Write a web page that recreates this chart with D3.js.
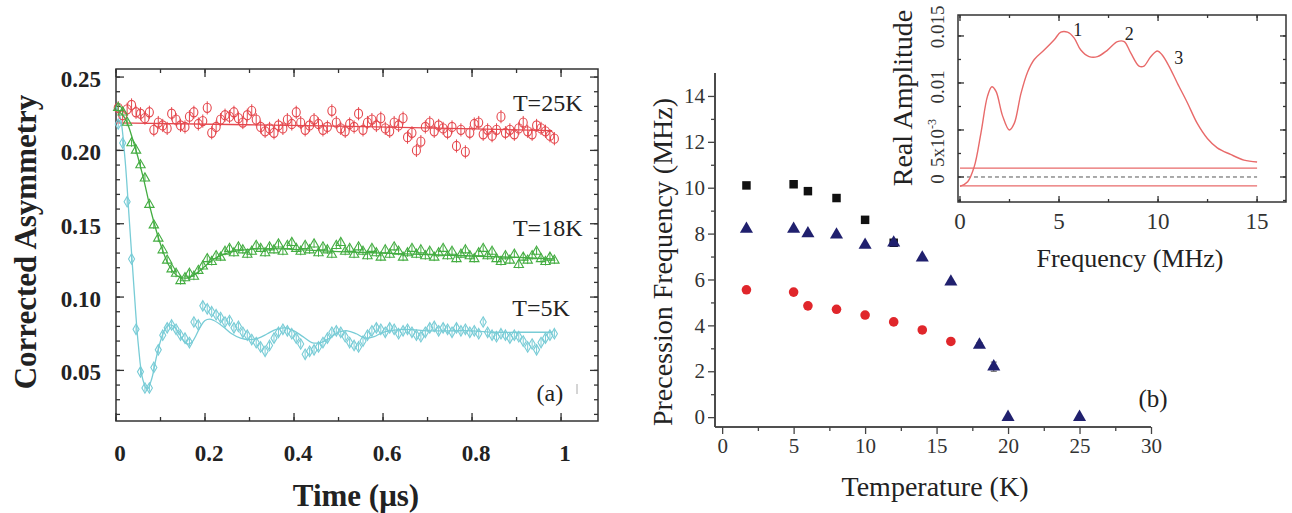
<!DOCTYPE html>
<html><head><meta charset="utf-8">
<script src="https://cdn.jsdelivr.net/npm/d3@7"></script>
<style>
html,body{margin:0;padding:0;background:#fff;}
svg{display:block;}
text{font-family:"Liberation Serif","Times New Roman",serif;}
</style></head>
<body>
<svg id="c" width="1292" height="513"></svg>
<script>
// ---------- Panel (a): muon asymmetry vs time ----------
const times = [0.005,0.015,0.025,0.035,0.045,0.055,0.065,0.075,0.085,0.095,
0.105,0.115,0.125,0.135,0.145,0.155,0.165,0.175,0.185,0.195,
0.205,0.215,0.225,0.235,0.245,0.255,0.265,0.275,0.285,0.295,
0.305,0.315,0.325,0.335,0.345,0.355,0.365,0.375,0.385,0.395,
0.405,0.415,0.425,0.435,0.445,0.455,0.465,0.475,0.485,0.495,
0.505,0.515,0.525,0.535,0.545,0.555,0.565,0.575,0.585,0.595,
0.605,0.615,0.625,0.635,0.645,0.655,0.665,0.675,0.685,0.695,
0.705,0.715,0.725,0.735,0.745,0.755,0.765,0.775,0.785,0.795,
0.805,0.815,0.825,0.835,0.845,0.855,0.865,0.875,0.885,0.895,
0.905,0.915,0.925,0.935,0.945,0.955,0.965,0.975,0.985];

const asym25K = [0.229,0.224,0.228,0.231,0.226,0.225,0.222,0.226,0.214,0.219,
0.217,0.215,0.225,0.221,0.217,0.216,0.223,0.226,0.218,0.220,
0.229,0.212,0.216,0.221,0.224,0.223,0.226,0.222,0.219,0.224,
0.227,0.221,0.216,0.213,0.215,0.212,0.217,0.215,0.221,0.218,
0.226,0.219,0.214,0.217,0.221,0.218,0.214,0.216,0.227,0.219,
0.215,0.213,0.218,0.216,0.225,0.214,0.219,0.221,0.217,0.222,
0.215,0.213,0.219,0.217,0.222,0.209,0.212,0.200,0.206,0.216,
0.219,0.213,0.217,0.215,0.212,0.216,0.203,0.214,0.199,0.212,
0.218,0.219,0.211,0.214,0.210,0.214,0.223,0.212,0.214,0.211,
0.215,0.219,0.213,0.211,0.217,0.215,0.213,0.210,0.208];

const asym18K = [0.229,0.226,0.219,0.205,0.200,0.190,0.181,0.163,0.149,0.140,
0.132,0.125,0.119,0.116,0.111,0.113,0.116,0.114,0.118,0.121,
0.126,0.124,0.128,0.127,0.131,0.133,0.130,0.134,0.132,0.129,
0.131,0.135,0.133,0.130,0.134,0.132,0.136,0.131,0.135,0.137,
0.133,0.131,0.135,0.132,0.136,0.130,0.134,0.132,0.129,0.135,
0.137,0.131,0.133,0.129,0.134,0.131,0.128,0.133,0.130,0.127,
0.132,0.129,0.134,0.131,0.127,0.130,0.133,0.129,0.132,0.128,
0.131,0.127,0.130,0.133,0.128,0.131,0.126,0.129,0.132,0.128,
0.126,0.130,0.133,0.128,0.131,0.126,0.124,0.128,0.125,0.129,
0.122,0.127,0.125,0.128,0.131,0.126,0.124,0.127,0.125];

const asym5K = [0.218,0.205,0.165,0.126,0.078,0.049,0.038,0.038,0.052,0.064,
0.074,0.079,0.081,0.078,0.074,0.072,0.069,0.083,0.081,0.094,
0.092,0.090,0.088,0.086,0.083,0.084,0.079,0.080,0.076,0.074,
0.071,0.069,0.066,0.063,0.067,0.072,0.076,0.078,0.077,0.075,
0.072,0.068,0.061,0.063,0.064,0.066,0.069,0.072,0.076,0.077,
0.076,0.073,0.069,0.067,0.066,0.070,0.074,0.077,0.079,0.078,
0.076,0.079,0.078,0.075,0.077,0.078,0.076,0.074,0.073,0.076,
0.079,0.080,0.077,0.079,0.078,0.076,0.079,0.077,0.078,0.076,
0.077,0.075,0.083,0.076,0.074,0.073,0.075,0.074,0.072,0.074,
0.073,0.070,0.066,0.068,0.064,0.069,0.072,0.074,0.075];

const err25K = 0.0045, err18K = 0.0025, err5K = 0.0025;

// fit curves (knots)
const fit25K_t = [0, 0.5, 0.98];
const fit25K_v = [0.2188, 0.2165, 0.2135];
const fit18K_t = [0,0.02,0.04,0.06,0.08,0.10,0.12,0.14,0.16,0.18,0.20,0.22,0.25,0.30,0.35,0.40,0.50,0.60,0.70,0.80,0.90,0.98];
const fit18K_v = [0.228,0.222,0.205,0.183,0.157,0.136,0.121,0.114,0.113,0.116,0.121,0.126,0.130,0.1325,0.133,0.1325,0.131,0.130,0.129,0.128,0.127,0.126];
const fit5K_t = [0,0.01,0.02,0.03,0.04,0.05,0.06,0.07,0.08,0.09,0.10,0.11,0.12,0.13,0.14,0.15,0.16,0.17,0.18,0.19,0.20,0.21,0.22,0.24,0.26,0.28,0.30,0.32,0.34,0.36,0.38,0.40,0.42,0.44,0.46,0.48,0.50,0.52,0.54,0.56,0.58,0.60,0.65,0.70,0.75,0.80,0.85,0.90,0.95,0.98];
const fit5K_v = [0.230,0.222,0.195,0.152,0.108,0.068,0.044,0.037,0.044,0.058,0.070,0.078,0.081,0.080,0.076,0.071,0.068,0.069,0.074,0.080,0.084,0.085,0.084,0.080,0.075,0.072,0.071,0.072,0.075,0.078,0.079,0.077,0.073,0.069,0.069,0.072,0.076,0.077,0.075,0.072,0.073,0.076,0.078,0.077,0.077,0.077,0.076,0.076,0.076,0.076];

const seriesLabelsA = ["T=25K","T=18K","T=5K"];
const xTicksA = [0,0.2,0.4,0.6,0.8,1];
const yTicksA = [0.05,0.10,0.15,0.20,0.25];
const xTickLabelsA = ["0","0.2","0.4","0.6","0.8","1"];
const yTickLabelsA = ["0.05","0.10","0.15","0.20","0.25"];

// ---------- Panel (b): precession frequency vs temperature ----------
const tempSquares = [1.7,5,6,8,10,12];
const freqSquares = [10.1,10.15,9.85,9.55,8.6,7.6];
const tempTriangles = [1.7,5,6,8,10,12,14,16,18,19,20,25];
const freqTriangles = [8.2,8.2,8.0,7.95,7.5,7.6,6.95,5.9,3.15,2.2,0.0,0.0];
const errTriangles  = [0,0,0,0,0,0,0,0,0.1,0.2,0,0];
const tempCircles = [1.7,5,6,8,10,12,14,16];
const freqCircles = [5.55,5.45,4.85,4.7,4.45,4.15,3.8,3.3];
const xTicksB = [0,5,10,15,20,25,30];
const yTicksB = [0,2,4,6,8,10,12,14];

// ---------- Inset: Fourier spectrum ----------
const specFreq = [0,0.39,0.72,1.06,1.39,1.61,1.82,2.15,2.49,2.74,3.08,3.42,3.75,4.25,4.76,5.09,5.43,5.76,6.1,6.52,6.94,7.45,7.95,8.29,8.62,9.04,9.29,9.63,9.97,10.2,10.55,10.97,11.48,11.98,12.49,12.99,13.66,14.34,15.0];
const specAmp = [-0.001,-0.0005,0.0011,0.0047,0.0086,0.0096,0.0091,0.0065,0.0050,0.0057,0.0089,0.0112,0.0125,0.0135,0.0146,0.0154,0.0154,0.0148,0.0135,0.0128,0.0128,0.0135,0.0144,0.0144,0.0132,0.0118,0.0118,0.0128,0.0134,0.0130,0.0118,0.0100,0.0079,0.0057,0.0041,0.0031,0.0024,0.0018,0.0016];
const noiseBand = [-0.00095, 0.00095];
const peakLabels = ["1","2","3"];
const peakFreq = [5.95,8.55,11.05];
const peakAmp  = [0.0156,0.0152,0.0127];
const xTicksI = [0,5,10,15];
const yTicksI = [0,0.005,0.01,0.015];

// =======================================================
const svg = d3.select("#c");
const RED = "#e5484e", GREEN = "#44ad42", CYAN = "#78ccd6";

// ---- Panel (a)
const xA = d3.scaleLinear().domain([0,1.083]).range([116,598]);
const yA = d3.scaleLinear().domain([0.0155,0.2555]).range([421,69]);
const gA = svg.append("g");

gA.append("rect").attr("x",xA.range()[0]).attr("y",yA.range()[1])
  .attr("width",xA.range()[1]-xA.range()[0]).attr("height",yA.range()[0]-yA.range()[1])
  .attr("fill","none").attr("stroke","#333").attr("stroke-width",1.5);

const minorXA = d3.range(0,1.0801,0.1), minorYA = d3.range(0.02,0.2551,0.01);
function inwardTicks(g, xs, ys, xTicks, yTicks, xMinor, yMinor, L, l){
  const [x0,x1]=xs.range(), [y0,y1]=ys.range();
  const lines=[];
  xMinor.forEach(v=>{lines.push([xs(v),y0,xs(v),y0-l]);lines.push([xs(v),y1,xs(v),y1+l]);});
  xTicks.forEach(v=>{lines.push([xs(v),y0,xs(v),y0-L]);lines.push([xs(v),y1,xs(v),y1+L]);});
  yMinor.forEach(v=>{lines.push([x0,ys(v),x0+l,ys(v)]);lines.push([x1,ys(v),x1-l,ys(v)]);});
  yTicks.forEach(v=>{lines.push([x0,ys(v),x0+L,ys(v)]);lines.push([x1,ys(v),x1-L,ys(v)]);});
  g.selectAll(null).data(lines).enter().append("line")
   .attr("x1",d=>d[0]).attr("y1",d=>d[1]).attr("x2",d=>d[2]).attr("y2",d=>d[3])
   .attr("stroke","#333").attr("stroke-width",1.3);
}
inwardTicks(gA,xA,yA,xTicksA,yTicksA,minorXA,minorYA,8,4);

gA.selectAll(null).data(xTicksA).enter().append("text")
  .attr("x",d=>xA(d)+4).attr("y",461).attr("text-anchor","middle")
  .attr("font-size",23).attr("font-weight","bold").attr("fill","#222")
  .text((d,i)=>xTickLabelsA[i]);
gA.selectAll(null).data(yTicksA).enter().append("text")
  .attr("x",101).attr("y",d=>yA(d)+10).attr("text-anchor","end")
  .attr("font-size",23).attr("font-weight","bold").attr("fill","#222")
  .text((d,i)=>yTickLabelsA[i]);

gA.append("text").attr("x",356).attr("y",506).attr("text-anchor","middle")
  .attr("font-size",31).attr("font-weight","bold").attr("fill","#222").text("Time (μs)");
gA.append("text").attr("transform","translate(36,242) rotate(-90)").attr("text-anchor","middle")
  .attr("font-size",31).attr("font-weight","bold").attr("fill","#222").text("Corrected Asymmetry");

const lineA = d3.line().curve(d3.curveCatmullRom.alpha(0.5));
function fitPath(ts,vs,color){
  gA.append("path").attr("d",lineA(ts.map((t,i)=>[xA(t),yA(vs[i])])))
    .attr("fill","none").attr("stroke",color).attr("stroke-width",1.3);
}
fitPath(fit25K_t,fit25K_v,RED);
fitPath(fit18K_t,fit18K_v,GREEN);
fitPath(fit5K_t,fit5K_v,CYAN);

function points(vals, err, color, shape){
  const g = gA.append("g");
  times.forEach((t,i)=>{
    const cx=xA(t), cy=yA(vals[i]);
    g.append("line").attr("x1",cx).attr("x2",cx).attr("y1",yA(vals[i]+err)).attr("y2",yA(vals[i]-err))
     .attr("stroke",color).attr("stroke-width",1);
    if(shape==="circle"){
      g.append("ellipse").attr("cx",cx).attr("cy",cy).attr("rx",4).attr("ry",4.6)
       .attr("fill","none").attr("stroke",color).attr("stroke-width",1.1);
    } else {
      const sym = shape==="tri"? d3.symbolTriangle : d3.symbolDiamond;
      g.append("path").attr("d",d3.symbol().type(sym).size(shape==="tri"?38:32)())
       .attr("transform",`translate(${cx},${cy})`)
       .attr("fill","none").attr("stroke",color).attr("stroke-width",1.1);
    }
  });
}
points(asym25K,err25K,RED,"circle");
points(asym18K,err18K,GREEN,"tri");
points(asym5K,err5K,CYAN,"dia");

const labelPosA = [[0.97,0.2269],[0.97,0.1416],[0.955,0.0871]];
gA.selectAll(null).data(seriesLabelsA).enter().append("text")
  .attr("x",(d,i)=>xA(labelPosA[i][0])).attr("y",(d,i)=>yA(labelPosA[i][1]))
  .attr("text-anchor","middle").attr("font-size",24).attr("fill","#222").text(d=>d);
gA.append("text").attr("x",xA(0.975)).attr("y",yA(0.0291)).attr("text-anchor","middle")
  .attr("font-size",24).attr("fill","#222").text("(a)");
gA.append("line").attr("x1",577).attr("x2",577).attr("y1",384).attr("y2",394)
  .attr("stroke","#aaa").attr("stroke-width",1);

// ---- Panel (b)
const xB = d3.scaleLinear().domain([-0.5,30]).range([715,1151]);
const yB = d3.scaleLinear().domain([-0.43,15]).range([427,73]);
const gB = svg.append("g");
const axL = gB.append("g").attr("transform",`translate(715,0)`)
  .call(d3.axisLeft(yB).tickValues(yTicksB).tickSize(7).tickPadding(3).tickFormat(d3.format("d")));
axL.append("g").call(d3.axisLeft(yB).tickValues(d3.range(1,15,2)).tickSize(4).tickFormat(""));
const axB = gB.append("g").attr("transform",`translate(0,427)`)
  .call(d3.axisBottom(xB).tickValues(xTicksB).tickSize(7).tickPadding(4).tickFormat(d3.format("d")));
axB.append("g").call(d3.axisBottom(xB).tickValues(d3.range(2.5,30,5)).tickSize(4).tickFormat(""));
[axL,axB].forEach(a=>{
  a.selectAll("path.domain").attr("stroke","#444").attr("stroke-width",1.6);
  a.selectAll("line").attr("stroke","#444").attr("stroke-width",1.3);
  a.selectAll("text").attr("font-family","Liberation Serif, serif").attr("font-size",21).attr("fill","#333");
});
axB.selectAll("path.domain").attr("d","M715,0H1151");
axL.selectAll("path.domain").attr("d","M0,73V427");

gB.append("text").attr("transform","translate(672,262) rotate(-90)").attr("text-anchor","middle")
  .attr("font-size",28).attr("fill","#222").text("Precession Frequency (MHz)");
gB.append("text").attr("x",935).attr("y",496).attr("text-anchor","middle")
  .attr("font-size",28).attr("fill","#222").text("Temperature (K)");
gB.append("text").attr("x",1153).attr("y",407).attr("text-anchor","middle")
  .attr("font-size",25).attr("fill","#222").text("(b)");

tempTriangles.forEach((t,i)=>{ if(errTriangles[i]>0){
  const cx=xB(t);
  gB.append("line").attr("x1",cx).attr("x2",cx).attr("y1",yB(freqTriangles[i]+errTriangles[i])).attr("y2",yB(freqTriangles[i]-errTriangles[i])).attr("stroke","#555").attr("stroke-width",1);
  [freqTriangles[i]+errTriangles[i],freqTriangles[i]-errTriangles[i]].forEach(v=>
    gB.append("line").attr("x1",cx-3).attr("x2",cx+3).attr("y1",yB(v)).attr("y2",yB(v)).attr("stroke","#555").attr("stroke-width",1));
}});
gB.selectAll(null).data(tempSquares).enter().append("path")
  .attr("d",d3.symbol().type(d3.symbolSquare).size(72)())
  .attr("transform",(d,i)=>`translate(${xB(d)},${yB(freqSquares[i])})`).attr("fill","#111");
gB.selectAll(null).data(tempTriangles).enter().append("path")
  .attr("d",d3.symbol().type(d3.symbolTriangle).size(74)())
  .attr("transform",(d,i)=>`translate(${xB(d)},${yB(freqTriangles[i])})`).attr("fill","#20206e");
gB.selectAll(null).data(tempCircles).enter().append("circle")
  .attr("cx",d=>xB(d)).attr("cy",(d,i)=>yB(freqCircles[i])).attr("r",4.8).attr("fill","#e0262b");

// ---- Inset
const xI = d3.scaleLinear().domain([-0.1,16.46]).range([958,1286]);
const yI = d3.scaleLinear().domain([-0.00266,0.01723]).range([202,15]);
const gI = svg.append("g");
gI.append("rect").attr("x",958).attr("y",15).attr("width",328).attr("height",187)
  .attr("fill","#fff").attr("stroke","#333").attr("stroke-width",1.5);
inwardTicks(gI,xI,yI,xTicksI,yTicksI,d3.range(0,16.1,2.5),d3.range(-0.0025,0.0171,0.0025),6,3);

gI.selectAll(null).data(noiseBand).enter().append("line")
  .attr("x1",xI(0)).attr("x2",xI(15)).attr("y1",d=>yI(d)).attr("y2",d=>yI(d))
  .attr("stroke","#e86a6a").attr("stroke-width",1.2);
gI.append("line").attr("x1",xI(0)).attr("x2",xI(15)).attr("y1",yI(0)).attr("y2",yI(0))
  .attr("stroke","#555").attr("stroke-width",1).attr("stroke-dasharray","4,3");
gI.append("path").attr("d",d3.line().curve(d3.curveCatmullRom.alpha(0.5))(specFreq.map((f,i)=>[xI(f),yI(specAmp[i])])))
  .attr("fill","none").attr("stroke","#e86a6a").attr("stroke-width",1.4);
gI.selectAll(null).data(peakLabels).enter().append("text")
  .attr("x",(d,i)=>xI(peakFreq[i])).attr("y",(d,i)=>yI(peakAmp[i])+6).attr("text-anchor","middle")
  .attr("font-size",18).attr("fill","#222").text(d=>d);

gI.selectAll(null).data(xTicksI).enter().append("text")
  .attr("x",d=>xI(d)).attr("y",229).attr("text-anchor","middle")
  .attr("font-size",23).attr("fill","#333").text(d=>d);
const yLabOff = [2,13,4,-9];
yTicksI.forEach((v,i)=>{
  const t = gI.append("text").attr("transform",`translate(944,${yI(v)+yLabOff[i]}) rotate(-90)`)
    .attr("text-anchor","middle").attr("font-size",19).attr("fill","#333");
  if(i===1){ t.append("tspan").text("5x10"); t.append("tspan").attr("font-size",12).attr("dy",-8).text("-3"); }
  else t.text(i===0?"0":(i===2?"0.01":"0.015"));
});
gI.append("text").attr("transform","translate(912,98) rotate(-90)").attr("text-anchor","middle")
  .attr("font-size",28).attr("fill","#222").text("Real Amplitude");
gI.append("text").attr("x",1130).attr("y",267).attr("text-anchor","middle")
  .attr("font-size",26).attr("fill","#222").text("Frequency (MHz)");
</script>
</body></html>
